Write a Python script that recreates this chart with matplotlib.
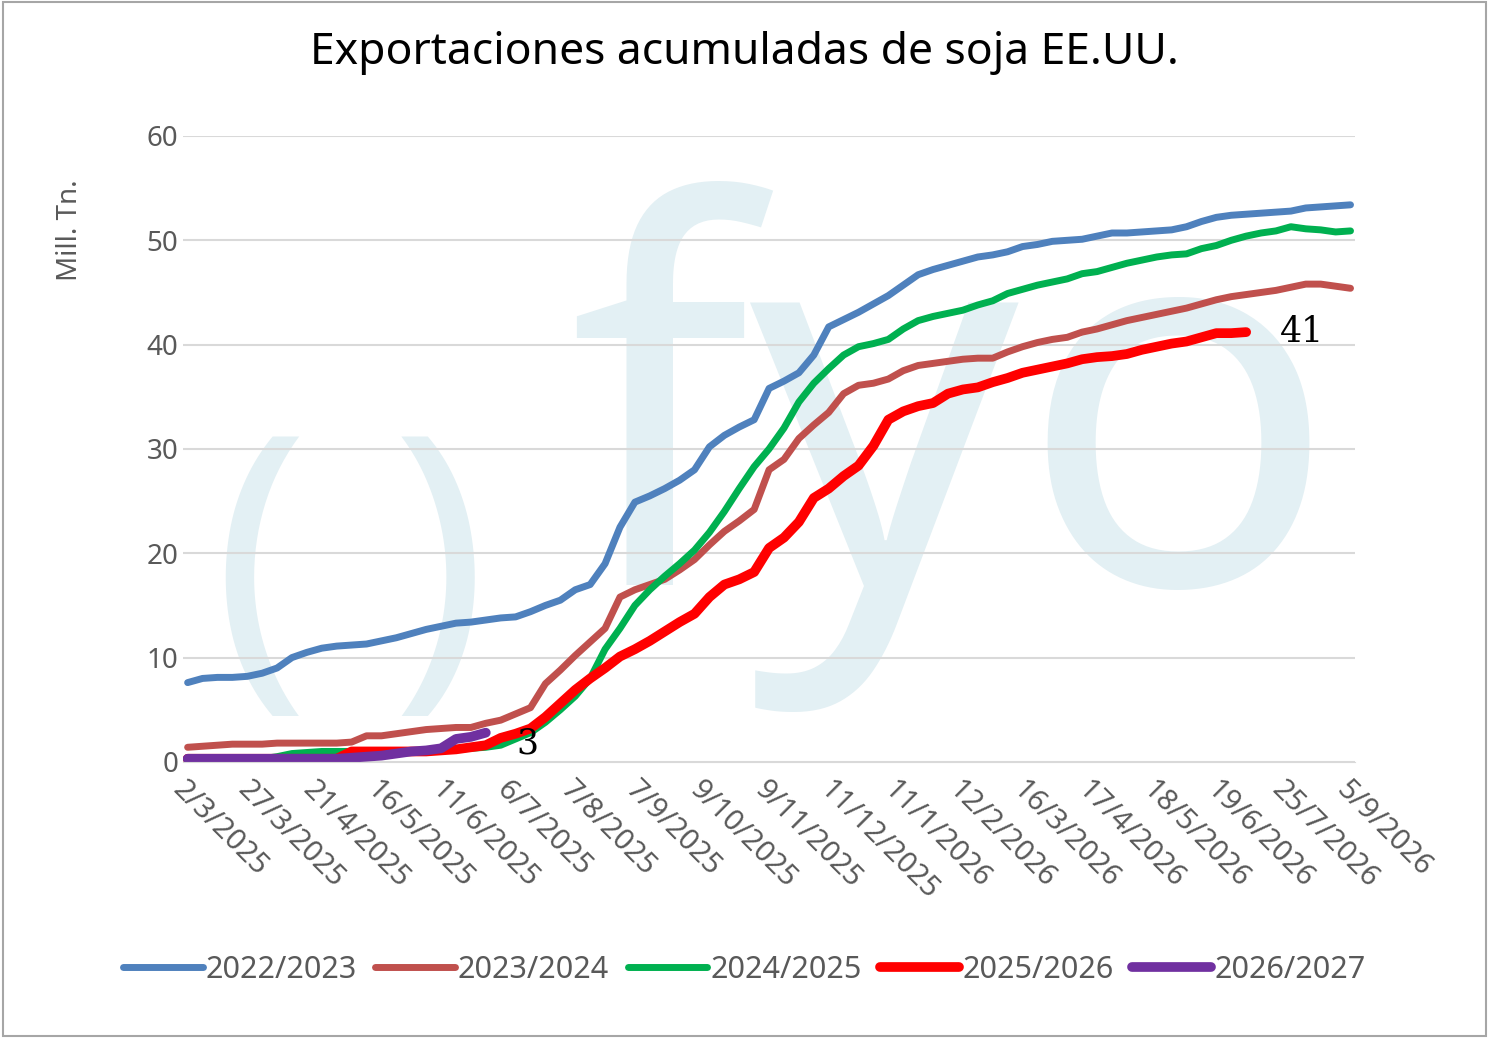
import numpy as np
import matplotlib.pyplot as plt

tick_labels = ["2/3/2025", "27/3/2025", "21/4/2025", "16/5/2025", "11/6/2025", "6/7/2025",
               "7/8/2025", "7/9/2025", "9/10/2025", "9/11/2025", "11/12/2025", "11/1/2026",
               "12/2/2026", "16/3/2026", "17/4/2026", "18/5/2026", "19/6/2026", "25/7/2026",
               "5/9/2026"]

s2223 = [7.6, 8.0, 8.1, 8.1, 8.2, 8.5, 9.0, 10.0, 10.5, 10.9, 11.1, 11.2, 11.3, 11.6, 11.9, 12.3,
         12.7, 13.0, 13.3, 13.4, 13.6, 13.8, 13.9, 14.4, 15.0, 15.5, 16.5, 17.0, 19.0, 22.5, 24.9,
         25.5, 26.2, 27.0, 28.0, 30.2, 31.3, 32.1, 32.8, 35.8, 36.5, 37.3, 39.0, 41.7, 42.4, 43.1,
         43.9, 44.7, 45.7, 46.7, 47.2, 47.6, 48.0, 48.4, 48.6, 48.9, 49.4, 49.6, 49.9, 50.0, 50.1,
         50.4, 50.7, 50.7, 50.8, 50.9, 51.0, 51.3, 51.8, 52.2, 52.4, 52.5, 52.6, 52.7, 52.8, 53.1,
         53.2, 53.3, 53.4]
s2324 = [1.4, 1.5, 1.6, 1.7, 1.7, 1.7, 1.8, 1.8, 1.8, 1.8, 1.8, 1.9, 2.5, 2.5, 2.7, 2.9, 3.1,
         3.2, 3.3, 3.3, 3.7, 4.0, 4.6, 5.2, 7.5, 8.8, 10.2, 11.5, 12.8, 15.8, 16.5, 17.0, 17.5,
         18.4, 19.4, 20.8, 22.1, 23.1, 24.2, 28.0, 29.0, 31.0, 32.3, 33.5, 35.3, 36.1, 36.3, 36.7,
         37.5, 38.0, 38.2, 38.4, 38.6, 38.7, 38.7, 39.3, 39.8, 40.2, 40.5, 40.7, 41.2, 41.5, 41.9,
         42.3, 42.6, 42.9, 43.2, 43.5, 43.9, 44.3, 44.6, 44.8, 45.0, 45.2, 45.5, 45.8, 45.8, 45.6,
         45.4]
s2425 = [0.3, 0.3, 0.3, 0.3, 0.3, 0.3, 0.5, 0.8, 0.9, 1.0, 1.0, 1.0, 1.0, 1.0, 1.0, 1.0, 1.0,
         1.1, 1.2, 1.3, 1.4, 1.6, 2.2, 2.8, 3.8, 5.0, 6.3, 8.0, 10.8, 12.8, 15.0, 16.5, 17.8, 19.0,
         20.3, 22.0, 24.0, 26.2, 28.3, 30.0, 32.0, 34.5, 36.3, 37.7, 39.0, 39.8, 40.1, 40.5, 41.5,
         42.3, 42.7, 43.0, 43.3, 43.8, 44.2, 44.9, 45.3, 45.7, 46.0, 46.3, 46.8, 47.0, 47.4, 47.8,
         48.1, 48.4, 48.6, 48.7, 49.2, 49.5, 50.0, 50.4, 50.7, 50.9, 51.3, 51.1, 51.0, 50.8, 50.9]
s2526 = [0.3, 0.3, 0.3, 0.3, 0.3, 0.3, 0.3, 0.3, 0.3, 0.3, 0.3, 1.0, 1.0, 1.0, 1.0, 1.0, 1.0,
         1.1, 1.2, 1.4, 1.6, 2.3, 2.7, 3.2, 4.3, 5.6, 6.9, 8.0, 9.0, 10.1, 10.8, 11.6, 12.5, 13.4,
         14.2, 15.8, 17.0, 17.5, 18.2, 20.5, 21.5, 23.0, 25.3, 26.2, 27.4, 28.4, 30.3, 32.8, 33.6,
         34.1, 34.4, 35.3, 35.7, 35.9, 36.4, 36.8, 37.3, 37.6, 37.9, 38.2, 38.6, 38.8, 38.9, 39.1,
         39.5, 39.8, 40.1, 40.3, 40.7, 41.1, 41.1, 41.2]
s2627 = [0.3, 0.3, 0.3, 0.3, 0.3, 0.3, 0.3, 0.3, 0.3, 0.3, 0.3, 0.4, 0.5, 0.6, 0.8, 1.0, 1.1,
         1.3, 2.2, 2.4, 2.8]

series = [("2022/2023", s2223, "#4f81bd", 5),
          ("2023/2024", s2324, "#c0504d", 5),
          ("2024/2025", s2425, "#00b050", 5),
          ("2025/2026", s2526, "#ff0000", 7),
          ("2026/2027", s2627, "#7030a0", 7)]

plt.rcParams['font.family'] = ['Noto Sans', 'DejaVu Sans']
fig = plt.figure(figsize=(14.89, 10.38), dpi=100)
ax = fig.add_axes([0.123, 0.266, 0.787, 0.603])
ax.set_zorder(2)
ax.patch.set_alpha(0)

# watermark
fig.text(0.64, 0.57, "fyo", fontsize=380, color="#e3f0f4", ha="center", va="center",
         fontweight="bold", zorder=0)
fig.text(0.235, 0.44, "( )", fontsize=230, color="#e3f0f4", ha="center", va="center",
         fontweight="bold", zorder=0)

for name, vals, col, lw in series:
    ax.plot(np.arange(len(vals)), vals, color=col, lw=lw, label=name, solid_capstyle="round")

ax.annotate(f"{s2526[-1]:.0f}", (len(s2526) - 1, s2526[-1]), xytext=(24, 0),
            textcoords="offset points", fontsize=25, va="center", family="serif")
ax.annotate(f"{s2627[-1]:.0f}", (len(s2627) - 1, s2627[-1]), xytext=(22, -8),
            textcoords="offset points", fontsize=25, va="center", family="serif")

ax.set_ylim(0, 60)
ax.set_xlim(-0.3, 78.3)
ax.set_yticks(range(0, 61, 10))
ax.yaxis.grid(True, color="#d9d9d9", lw=1.5)
ax.set_axisbelow(True)
ax.set_xticks(np.linspace(0, 78, len(tick_labels)))
ax.set_xticklabels(tick_labels, rotation=-45, ha="left", va="top", rotation_mode="anchor",
                   fontsize=21, color="#595959")
ax.tick_params(axis="y", labelsize=20, labelcolor="#595959", length=0)
ax.tick_params(axis="x", length=0, pad=10)
for s in ax.spines.values():
    s.set_visible(False)
ax.spines["bottom"].set_visible(True)
ax.spines["bottom"].set_color("#d9d9d9")
ax.set_ylabel("Mill. Tn.", fontsize=20, color="#595959")
ax.yaxis.set_label_coords(-0.085, 0.85)

fig.suptitle("Exportaciones acumuladas de soja EE.UU.", fontsize=32, y=0.97)
fig.legend(loc="lower center", ncol=5, bbox_to_anchor=(0.5, 0.025), frameon=False,
           fontsize=22, handlelength=2.6, labelcolor="#595959", columnspacing=0.6,
           handletextpad=0.1)
fig.patches.append(plt.Rectangle((0.002, 0.002), 0.996, 0.996, transform=fig.transFigure,
                                 fill=False, edgecolor="#a6a6a6", lw=1.5))
fig.savefig("out.png", dpi=100)
